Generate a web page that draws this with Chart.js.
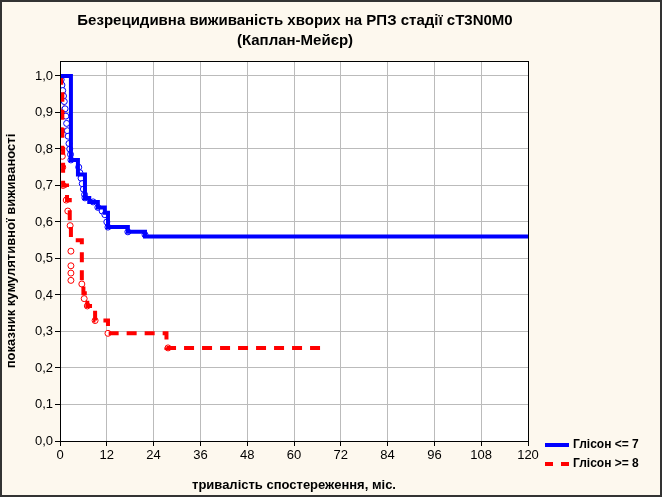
<!DOCTYPE html>
<html><head><meta charset="utf-8">
<script src="https://cdn.jsdelivr.net/npm/chart.js@4"></script>
<style>
body{margin:0;background:#fdf8ee;font-family:Arial,"Liberation Sans",sans-serif}
#w{position:relative;width:662px;height:497px}
#t{position:absolute;left:0;top:10px;width:590px;text-align:center;font-weight:bold;font-size:15px;line-height:20px;color:#000}
.lg{position:absolute;left:545px;font-weight:bold;font-size:12px;color:#000}
.lg span{display:inline-block;width:24px;height:0;margin-right:4px;vertical-align:middle}
</style></head><body>
<div id="w"><canvas id="c" width="662" height="497"></canvas>
<div id="t">Безрецидивна виживаність хворих на РПЗ стадії сТ3N0M0<br>(Каплан-Мейєр)</div>
<div class="lg" style="top:437px"><span style="border-top:4px solid #0000ff"></span>Глісон &lt;= 7</div>
<div class="lg" style="top:456px"><span style="border-top:4px dashed #ff0000"></span>Глісон &gt;= 8</div>
</div>
<script>
const xTicks=[0,12,24,36,48,60,72,84,96,108,120];
const blueT=[0,2.8,4.6,6.4,7.5,9.7,11.5,12.3,17.4,21.8,120];
const blueS=[1.0,0.77,0.73,0.666,0.655,0.64,0.625,0.586,0.573,0.56,0.56];
const blueCensT=[0.3,0.5,0.7,0.9,1.1,1.3,1.5,1.7,1.9,2.1,2.3,2.5,2.7,2.8,4.8,5.1,5.4,5.7,6.0,6.3,6.4,8.5,9.7,10.8,11.5,12.0,12.3,17.4,21.8];
const blueCensS=[0.99,0.975,0.96,0.945,0.93,0.91,0.89,0.87,0.85,0.835,0.815,0.80,0.785,0.77,0.75,0.735,0.72,0.705,0.69,0.675,0.666,0.655,0.64,0.63,0.62,0.6,0.586,0.573,0.565];
const redT=[0,0.3,0.6,0.8,1.8,2.5,2.8,5.6,6.0,7.0,9.0,12.3,27.3,68];
const redS=[1.0,0.95,0.8,0.7,0.66,0.59,0.55,0.435,0.405,0.37,0.33,0.295,0.255,0.255];
const redCensT=[0.3,0.4,0.5,0.6,0.7,0.8,1.6,2.0,2.6,2.8,2.8,2.8,2.8,5.6,6.2,7.0,9.0,12.3,27.7];
const redCensS=[0.92,0.9,0.85,0.78,0.75,0.7,0.66,0.63,0.59,0.52,0.48,0.46,0.44,0.43,0.39,0.37,0.33,0.295,0.255];
const pts=(a,b)=>a.map((x,i)=>({x,y:b[i]}));
const bg={id:'bg',beforeDraw(ch){const c=ch.ctx,a=ch.chartArea;c.save();c.fillStyle='#fdf8ee';c.fillRect(0,0,662,497);c.fillStyle='#fff';c.fillRect(a.left,a.top,a.right-a.left,a.bottom-a.top);c.restore();},
afterDraw(ch){const c=ch.ctx,a=ch.chartArea;c.save();c.strokeStyle='#000';c.lineWidth=1;c.strokeRect(a.left+0.5,a.top+0.5,a.right-a.left,a.bottom-a.top);c.strokeStyle='#333';c.lineWidth=2;c.strokeRect(1,1,660,495);c.restore();}};
new Chart(document.getElementById('c'),{
type:'scatter',
data:{datasets:[
{type:'line',data:pts(blueT,blueS),stepped:'before',borderColor:'#0000ff',borderWidth:4,pointRadius:0,fill:false},
{type:'line',data:pts(redT,redS),stepped:'before',borderColor:'#ff0000',borderWidth:4,borderDash:[10,8],pointRadius:0,fill:false},
{data:pts(blueCensT,blueCensS),pointRadius:3,pointBackgroundColor:'#fff',pointBorderColor:'#0000ff',pointBorderWidth:1},
{data:pts(redCensT,redCensS),pointRadius:3,pointBackgroundColor:'#fff',pointBorderColor:'#ff0000',pointBorderWidth:1}
]},
options:{responsive:false,animation:false,
layout:{padding:{top:61,right:134,left:0,bottom:0}},
plugins:{legend:{display:false},tooltip:{enabled:false}},
scales:{
x:{type:'linear',min:0,max:120,afterFit:s=>{s.height=56},afterBuildTicks:s=>{s.ticks=xTicks.map(v=>({value:v}))},
grid:{color:'#bbb',borderDash:[1,3],tickLength:5,tickColor:'#000'},border:{display:false},
ticks:{color:'#000',font:{size:13,family:'Arial'},padding:2},
title:{display:true,text:'тривалість спостереження, міс.',color:'#000',font:{size:13,weight:'bold',family:'Arial'},padding:{top:0}}},
y:{min:0,max:1.041,afterFit:s=>{s.width=60},afterBuildTicks:s=>{s.ticks=[0,.1,.2,.3,.4,.5,.6,.7,.8,.9,1].map(v=>({value:v}))},
grid:{color:'#bbb',borderDash:[1,3],tickLength:5,tickColor:'#000'},border:{display:false},
ticks:{color:'#000',font:{size:13,family:'Arial'},padding:2,callback:v=>v.toFixed(1).replace('.',',')},
title:{display:true,text:'показник кумулятивної виживаності',color:'#000',font:{size:13,weight:'bold',family:'Arial'},padding:{bottom:0}}}
}},
plugins:[bg]});
</script></body></html>
